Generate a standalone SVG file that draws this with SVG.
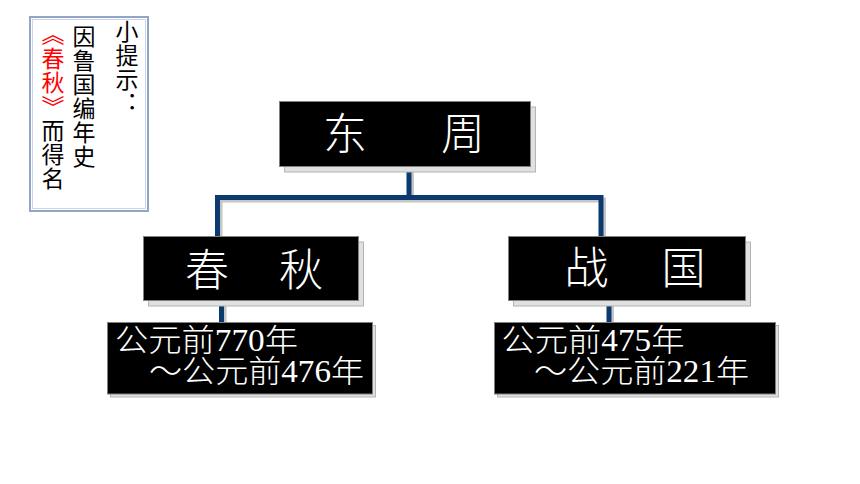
<svg xmlns="http://www.w3.org/2000/svg" width="860" height="484" viewBox="0 0 860 484">
<style>
.shadow{fill:#e0e0e0;stroke:#b4b4b4;stroke-width:1}
.box{fill:#000;stroke:#808080;stroke-width:1}
.lbl{fill:#fff;font-family:"Liberation Serif","Noto Sans CJK SC",serif;font-size:44px;font-weight:300;text-anchor:middle}
.date{fill:#fff;font-family:"Liberation Serif","Noto Sans CJK SC",serif;font-size:31px;font-weight:300}
.vt{font-family:"Noto Sans CJK SC",sans-serif;font-size:23px;writing-mode:vertical-rl;letter-spacing:1px;fill:#000}
.conn{fill:none;stroke:#0b3a6f;stroke-width:5;stroke-linejoin:miter;stroke-linecap:butt}
.conn-sh{fill:none;stroke:#c6c6c6;stroke-width:5;stroke-linejoin:miter}
</style>
<rect width="860" height="484" fill="#fff"/>
<g id="hint">
<rect x="30" y="17" width="118" height="194" fill="#fff" stroke="#92a4c8" stroke-width="2"/>
<rect x="32.5" y="19.5" width="113" height="189" fill="none" stroke="#cdd5e6" stroke-width="1"/>
<text class="vt" x="127" y="20">小提示：</text>
<text class="vt" x="84" y="25">因鲁国编年史</text>
<text class="vt" x="53" y="23" letter-spacing="2.5"><tspan fill="#ff0000">《春秋》</tspan>而得名</text>
</g>
<g id="connectors">
<path class="conn-sh" d="M220 237 V200 H603.5 V237 M411.5 166 V200"/>
<path class="conn" d="M217.5 237 V197.5 H601 V237 M409 160 V197.5"/>
<path class="conn-sh" d="M224 300 V322 M611.5 300 V322"/>
<path class="conn" d="M221.5 300 V322 M609 300 V322"/>
</g>
<g id="node-dongzhou">
<rect class="shadow" x="284.5" y="107" width="251" height="65"/>
<rect class="box" x="279.5" y="101.5" width="251" height="65"/>
<text class="lbl" y="150"><tspan x="345">东</tspan><tspan x="463">周</tspan></text>
</g>
<g id="node-chunqiu">
<rect class="shadow" x="148.5" y="242" width="215" height="64"/>
<rect class="box" x="143.5" y="236.5" width="215" height="64"/>
<text class="lbl" y="286"><tspan x="207">春</tspan><tspan x="301">秋</tspan></text>
</g>
<g id="node-zhanguo">
<rect class="shadow" x="513.5" y="242" width="237" height="64"/>
<rect class="box" x="508.5" y="236.5" width="237" height="64"/>
<text class="lbl" y="284"><tspan x="586.5">战</tspan><tspan x="683.5">国</tspan></text>
</g>
<g id="node-date1">
<rect class="shadow" x="110.5" y="325.5" width="265" height="71.5"/>
<rect class="box" x="107.5" y="322.5" width="265" height="71.5"/>
<text class="date" x="115" y="351" textLength="183" lengthAdjust="spacingAndGlyphs">公元前770年</text>
<text class="date" x="149" y="382" textLength="215" lengthAdjust="spacingAndGlyphs">～公元前476年</text>
</g>
<g id="node-date2">
<rect class="shadow" x="497.5" y="325.5" width="281" height="71.5"/>
<rect class="box" x="494.5" y="322.5" width="281" height="71.5"/>
<text class="date" x="501.5" y="351" textLength="183" lengthAdjust="spacingAndGlyphs">公元前475年</text>
<text class="date" x="534" y="382" textLength="215" lengthAdjust="spacingAndGlyphs">～公元前221年</text>
</g>
</svg>
